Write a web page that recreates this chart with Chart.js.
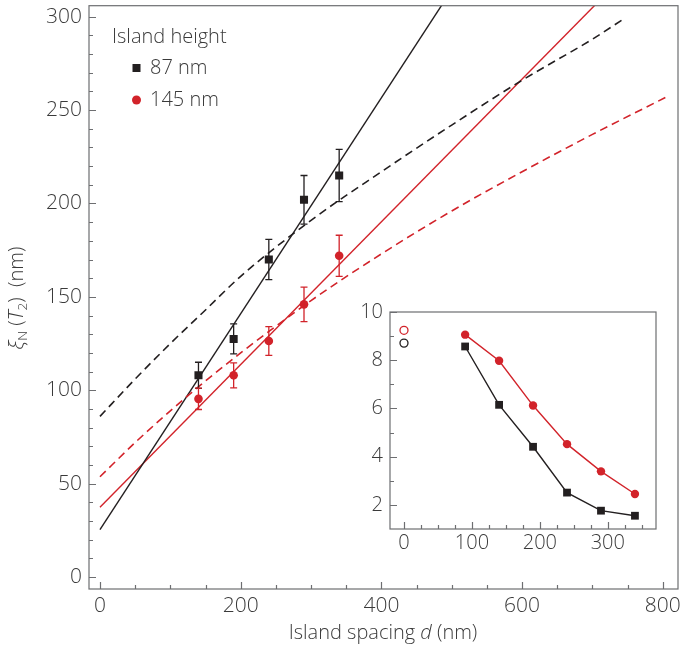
<!DOCTYPE html>
<html>
<head>
<meta charset="utf-8">
<script src="https://cdn.jsdelivr.net/npm/chart.js@4.4.1/dist/chart.umd.min.js"></script>
<style>
html, body { margin: 0; padding: 0; background: #fff; }
#wrap { position: relative; width: 685px; height: 651px; }
#main { position: absolute; left: 0; top: 0; }
#inset { position: absolute; left: 320px; top: 300px; }
</style>
</head>
<body>
<div id="wrap">
  <canvas id="main" width="685" height="651"></canvas>
  <canvas id="inset" width="350" height="260"></canvas>
</div>
<script>
// measured points (main panel)
var spacing = [140, 190, 240, 290, 340];
var xi87 = [108, 127.5, 170, 202, 215];
var xi87Err = [7, 8, 10.8, 13, 14];
var xi145 = [95.4, 108, 126.4, 146, 172];
var xi145Err = [5.7, 6.7, 7.7, 9.2, 11];

// linear fits (solid)
var fit87X = [0, 500];
var fit87Y = [25.4, 314.4];
var fit145X = [0, 730];
var fit145Y = [37.4, 316.3];

// model curves (dashed)
var model87X = [0, 50, 100, 150, 200, 300, 400, 500, 600, 700, 743];
var model87Y = [86, 106, 125, 143, 161, 191, 217, 242, 266, 288, 298.5];
var model145X = [0, 50, 100, 150, 200, 300, 400, 500, 600, 700, 805];
var model145Y = [53.7, 72, 89, 105, 120, 148, 173, 196, 217, 237, 257];

// inset: T2 vs spacing
var insetX = [90, 140, 190, 240, 290, 340];
var t2_87 = [8.57, 6.15, 4.41, 2.51, 1.76, 1.55];
var t2_145 = [9.06, 7.98, 6.12, 4.52, 3.39, 2.45];
var t2Film87 = [8.71];
var t2Film145 = [9.24];
var filmX = [0];

var mainXTicks = [0, 200, 400, 600, 800];
var mainYTicks = [0, 50, 100, 150, 200, 250, 300];
var insetXTicks = [0, 100, 200, 300];
var insetYTicks = [2, 4, 6, 8, 10];

var BLACK = '#231f20';
var RED = '#d2232a';
var TEXT = '#3a3a3a';
var FONT = '"Open Sans", sans-serif';

function pts(xs, ys) {
    return xs.map(function(x, i) { return { x: x, y: ys[i] }; });
}

function richText(ctx, parts, size, cx, cy) {
    function font(p) {
        var sz = p[1].indexOf('s') >= 0 ? size * 0.68 : size;
        return (p[1].indexOf('i') >= 0 ? 'italic ' : '') + '300 ' + sz + 'px ' + FONT;
    }
    var w = 0;
    parts.forEach(function(p) { ctx.font = font(p); w += ctx.measureText(p[0]).width; });
    var x = cx - w / 2;
    ctx.textAlign = 'left';
    ctx.textBaseline = 'middle';
    parts.forEach(function(p) {
        ctx.font = font(p);
        var dy = p[1].indexOf('s') >= 0 ? size * 0.3 : 0;
        ctx.fillText(p[0], x, cy + dy);
        x += ctx.measureText(p[0]).width;
    });
}

function frameTicks(o) {
    return {
        id: 'frameTicks',
        afterDraw: function(chart) {
            var ctx = chart.ctx, a = chart.chartArea;
            var sx = chart.scales.x, sy = chart.scales.y;
            ctx.save();
            ctx.strokeStyle = '#6d6e71';
            ctx.lineWidth = 1.2;
            ctx.strokeRect(a.left, a.top, a.right - a.left, a.bottom - a.top);
            ctx.beginPath();
            var v, p, len;
            for (v = o.x0; v <= o.x1 + 1e-6; v += o.xMinor) {
                p = Math.round(sx.getPixelForValue(v)) + 0.5;
                len = Math.abs(v % o.xMajor) < 1e-6 ? 7 : 4;
                ctx.moveTo(p, a.bottom);
                ctx.lineTo(p, a.bottom - len);
            }
            for (v = o.y0; v <= o.y1 + 1e-6; v += o.yMinor) {
                p = Math.round(sy.getPixelForValue(v)) + 0.5;
                len = Math.abs(v % o.yMajor) < 1e-6 ? 7 : 4;
                ctx.moveTo(a.left, p);
                ctx.lineTo(a.left + len, p);
            }
            ctx.stroke();
            ctx.restore();
        }
    };
}

var errorBars = {
    id: 'errorBars',
    afterDatasetsDraw: function(chart) {
        var ctx = chart.ctx, sx = chart.scales.x, sy = chart.scales.y;
        ctx.save();
        chart.data.datasets.forEach(function(ds) {
            if (!ds.err) return;
            ctx.strokeStyle = ds.borderColor;
            ctx.lineWidth = 1.3;
            ctx.beginPath();
            ds.data.forEach(function(d, i) {
                var x = sx.getPixelForValue(d.x);
                var y1 = sy.getPixelForValue(d.y - ds.err[i]);
                var y2 = sy.getPixelForValue(d.y + ds.err[i]);
                ctx.moveTo(x, y1); ctx.lineTo(x, y2);
                ctx.moveTo(x - 3.5, y1); ctx.lineTo(x + 3.5, y1);
                ctx.moveTo(x - 3.5, y2); ctx.lineTo(x + 3.5, y2);
            });
            ctx.stroke();
        });
        ctx.restore();
    }
};

var mainDecor = {
    id: 'mainDecor',
    afterDraw: function(chart) {
        var ctx = chart.ctx;
        ctx.save();
        ctx.fillStyle = TEXT;
        // legend
        ctx.font = '300 20px ' + FONT;
        ctx.textBaseline = 'middle';
        ctx.textAlign = 'left';
        ctx.fillText('Island height', 112, 37);
        ctx.fillText('87 nm', 150, 68);
        ctx.fillText('145 nm', 150, 100);
        ctx.fillStyle = BLACK;
        ctx.fillRect(132.5, 64, 8, 8);
        ctx.fillStyle = RED;
        ctx.beginPath();
        ctx.arc(136.5, 100, 4.5, 0, Math.PI * 2);
        ctx.fill();
        // axis titles
        ctx.fillStyle = TEXT;
        richText(ctx, [['Island spacing ', ''], ['d', 'i'], [' (nm)', '']], 20, 383, 633);
        ctx.translate(17, 298);
        ctx.rotate(-Math.PI / 2);
        richText(ctx, [['\u03be', 'i'], ['N', 's'], [' (', ''], ['T', 'i'], ['2', 's'], [')  (nm)', '']], 20, 0, 0);
        ctx.restore();
    }
};

var insetDecor = {
    id: 'insetDecor',
    afterDraw: function(chart) {
        var ctx = chart.ctx;
        ctx.save();
        ctx.fillStyle = TEXT;
        ctx.translate(20, 420);
        ctx.rotate(-Math.PI / 2);
        richText(ctx, [['T', 'i'], ['2', 's'], [' (K)', '']], 20, 0, 0);
        ctx.restore();
    }
};

function fixedTicks(list) {
    return function(scale) {
        scale.ticks = list.map(function(v) { return { value: v }; });
    };
}

// pin the axis box sizes so the plot area lands where the figure has it
function fitX(h) {
    return function(s) { s.height = h; s.paddingLeft = 0; s.paddingRight = 0; };
}
function fitY(w) {
    return function(s) { s.width = w; s.paddingTop = 0; s.paddingBottom = 0; };
}

new Chart(document.getElementById('main'), {
    type: 'scatter',
    data: {
        datasets: [
            { data: pts(model87X, model87Y), showLine: true, borderColor: BLACK, borderWidth: 1.6,
              borderDash: [8, 5], pointRadius: 0, cubicInterpolationMode: 'monotone' },
            { data: pts(model145X, model145Y), showLine: true, borderColor: RED, borderWidth: 1.6,
              borderDash: [8, 5], pointRadius: 0, cubicInterpolationMode: 'monotone' },
            { data: pts(fit87X, fit87Y), showLine: true, borderColor: BLACK, borderWidth: 1.4, pointRadius: 0 },
            { data: pts(fit145X, fit145Y), showLine: true, borderColor: RED, borderWidth: 1.4, pointRadius: 0 },
            { data: pts(spacing, xi87), err: xi87Err, pointStyle: 'rect', pointRadius: 5.7,
              backgroundColor: BLACK, borderColor: BLACK, borderWidth: 0 },
            { data: pts(spacing, xi145), err: xi145Err, pointStyle: 'circle', pointRadius: 4.3,
              backgroundColor: RED, borderColor: RED, borderWidth: 0 }
        ]
    },
    options: {
        responsive: false,
        animation: false,
        devicePixelRatio: 1,
        layout: { padding: { left: 0, top: 2, right: 7, bottom: 0 } },
        plugins: { legend: { display: false }, tooltip: { enabled: false } },
        scales: {
            x: {
                type: 'linear', min: -15.6, max: 821.6,
                afterBuildTicks: fixedTicks(mainXTicks),
                afterFit: fitX(62),
                grid: { display: false, drawTicks: false },
                border: { display: false },
                ticks: { padding: 4, color: TEXT, font: { family: FONT, size: 21, weight: '300' } }
            },
            y: {
                type: 'linear', min: -6.4, max: 305.9,
                afterBuildTicks: fixedTicks(mainYTicks),
                afterFit: fitY(89),
                grid: { display: false, drawTicks: false },
                border: { display: false },
                ticks: { padding: 7, color: TEXT, font: { family: FONT, size: 21, weight: '300' } }
            }
        }
    },
    plugins: [frameTicks({ x0: 0, x1: 800, xMinor: 50, xMajor: 200, y0: 0, y1: 300, yMinor: 10, yMajor: 50 }),
              errorBars, mainDecor]
});

new Chart(document.getElementById('inset'), {
    type: 'scatter',
    data: {
        datasets: [
            { data: pts(insetX, t2_145), showLine: true, borderColor: RED, borderWidth: 1.4,
              pointStyle: 'circle', pointRadius: 4.2, backgroundColor: RED, pointBorderWidth: 0 },
            { data: pts(insetX, t2_87), showLine: true, borderColor: BLACK, borderWidth: 1.4,
              pointStyle: 'rect', pointRadius: 5.5, backgroundColor: BLACK, pointBorderWidth: 0 },
            { data: pts(filmX, t2Film145), pointStyle: 'circle', pointRadius: 4,
              backgroundColor: '#fff', borderColor: RED, borderWidth: 1.3 },
            { data: pts(filmX, t2Film87), pointStyle: 'circle', pointRadius: 4,
              backgroundColor: '#fff', borderColor: BLACK, borderWidth: 1.3 }
        ]
    },
    options: {
        responsive: false,
        animation: false,
        devicePixelRatio: 1,
        layout: { padding: { left: 0, top: 12, right: 14, bottom: 0 } },
        plugins: { legend: { display: false }, tooltip: { enabled: false } },
        scales: {
            x: {
                type: 'linear', min: -20.6, max: 371,
                afterBuildTicks: fixedTicks(insetXTicks),
                afterFit: fitX(31),
                grid: { display: false, drawTicks: false },
                border: { display: false },
                ticks: { padding: 2, color: TEXT, font: { family: FONT, size: 20, weight: '300' } }
            },
            y: {
                type: 'linear', min: 1.0, max: 10,
                afterBuildTicks: fixedTicks(insetYTicks),
                afterFit: fitY(70),
                grid: { display: false, drawTicks: false },
                border: { display: false },
                ticks: { padding: 7, color: TEXT, font: { family: FONT, size: 20, weight: '300' } }
            }
        }
    },
    plugins: [frameTicks({ x0: 0, x1: 350, xMinor: 25, xMajor: 100, y0: 2, y1: 10, yMinor: 1, yMajor: 2 }),
              insetDecor]
});
</script>
</body>
</html>
